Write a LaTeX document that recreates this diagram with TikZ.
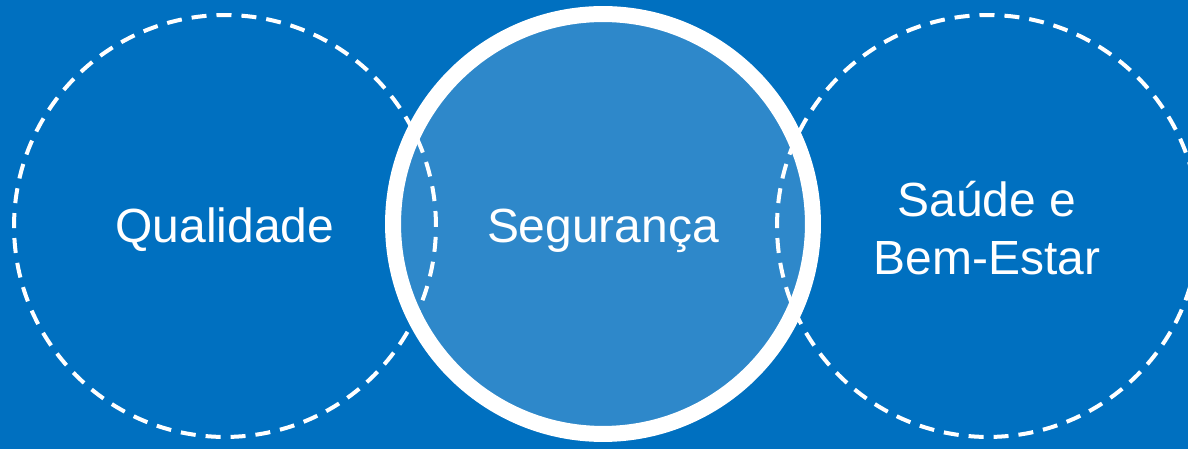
\documentclass[tikz,border=0pt]{standalone}
\usepackage{fontspec}
\setmainfont{Liberation Sans}
\usetikzlibrary{positioning}
\definecolor{officeblue}{HTML}{0070C0}
\definecolor{lightblue}{HTML}{2E88CA}
\begin{document}
\begin{tikzpicture}[x=0.02cm, y=-0.02cm, font=\fontsize{27.3}{32.6}\selectfont]
\tikzstyle{ring}=[circle, draw=white, inner sep=0pt, minimum size=8.4cm]
\tikzstyle{dashring}=[ring, line width=0.08cm, minimum size=8.44cm, dash pattern=on 0.3cm off 0.2cm]
\tikzstyle{txt}=[text=white, anchor=base, align=center, inner sep=0pt]
\useasboundingbox (0,0) rectangle (1188,449);
\clip (0,0) rectangle (1188,449);
\fill[officeblue] (0,0) rectangle (1188,449);
% circles
\node[ring, line width=0.32cm, fill=lightblue] (seguranca) at (603,224) {};
\node[dashring] (qualidade) at (225,226) {};
\node[dashring] (saude) at (988,226) {};
% texts
\node[txt] (qualidade-txt) at (225,243) {Qualidade};
\node[txt] (seguranca-txt) at (603,243) {Segurança};
\node[txt, anchor=center] (saude-txt) at (987,228) {Saúde e\\Bem-Estar};
\end{tikzpicture}
\end{document}
